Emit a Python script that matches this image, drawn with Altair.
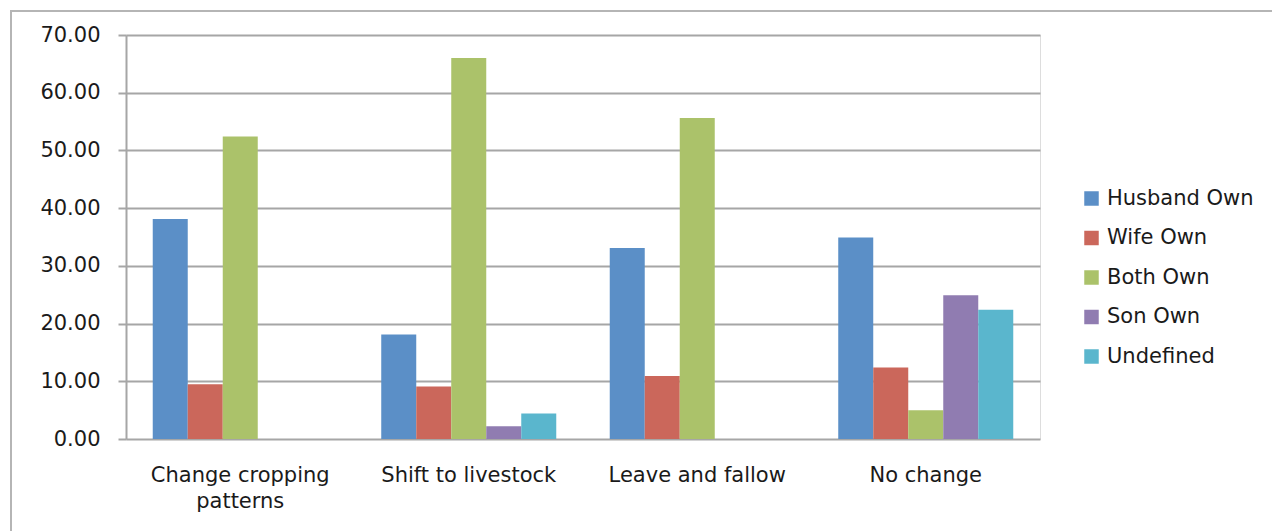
import altair as alt
import pandas as pd

categories = ["Change cropping patterns", "Shift to livestock", "Leave and fallow", "No change"]
series = ["Husband Own", "Wife Own", "Both Own", "Son  Own", "Undefined"]
husband = [38.1, 18.1, 33.1, 34.9]
wife = [9.5, 9.1, 10.9, 12.4]
both = [52.4, 66.0, 55.6, 5.0]
son = [0.0, 2.2, 0.0, 24.9]
undefined = [0.0, 4.4, 0.0, 22.4]
colors = ["#5B8FC7", "#CB675B", "#ABC26A", "#907CB1", "#5AB6CD"]

rows = []
for s, vals in zip(series, [husband, wife, both, son, undefined]):
    for c, v in zip(categories, vals):
        rows.append({"category": c, "series": s, "value": v})
df = pd.DataFrame(rows)

FONT = "DejaVu Sans"
FS = 21

bars = alt.Chart(df).mark_bar().encode(
    x=alt.X("category:N", sort=categories, title=None,
            scale=alt.Scale(paddingInner=0, paddingOuter=0),
            axis=alt.Axis(labelAngle=0, ticks=False, domain=False, grid=False,
                          labelFontSize=FS, labelFont=FONT, labelColor="#1a1a1a",
                          labelPadding=25, labelLineHeight=26,
                          labelExpr="datum.value == 'Change cropping patterns' ? ['Change cropping', 'patterns'] : datum.value")),
    xOffset=alt.XOffset("series:N", sort=series,
                        scale=alt.Scale(domain=series, paddingInner=0, paddingOuter=0.764)),
    y=alt.Y("value:Q", title=None,
            scale=alt.Scale(domain=[0, 70], nice=False),
            axis=alt.Axis(values=[0, 10, 20, 30, 40, 50, 60, 70], format=".2f",
                          labelFontSize=FS, labelFont=FONT, labelColor="#1a1a1a",
                          tickSize=8, tickColor="#A6A6A6", tickWidth=2,
                          domainColor="#A6A6A6", domainWidth=2,
                          gridColor="#A6A6A6", gridWidth=2,
                          labelPadding=18)),
    color=alt.Color("series:N", sort=series, title=None,
                    scale=alt.Scale(domain=series, range=colors),
                    legend=alt.Legend(orient="none", legendX=955, legendY=153,
                                      symbolType="square", symbolSize=210,
                                      symbolStrokeWidth=0,
                                      labelFontSize=FS, labelFont=FONT, labelColor="#1a1a1a",
                                      rowPadding=17.5, labelOffset=5)),
)

frame = alt.Chart(pd.DataFrame({"a": [0]})).mark_rect(
    fill=None, stroke="#B5B5B5", strokeWidth=2
).encode(
    x=alt.value(-115), x2=alt.value(1300), y=alt.value(-24), y2=alt.value(600)
)

chart = alt.layer(frame, bars).properties(
    width=914, height=404,
    autosize=alt.AutoSizeParams(type="none"),
    padding={"left": 126, "top": 35, "right": 232, "bottom": 92},
).configure_view(stroke=None).configure(background="white")

chart.save("out.html", embed_options={"renderer": "svg", "actions": False})
